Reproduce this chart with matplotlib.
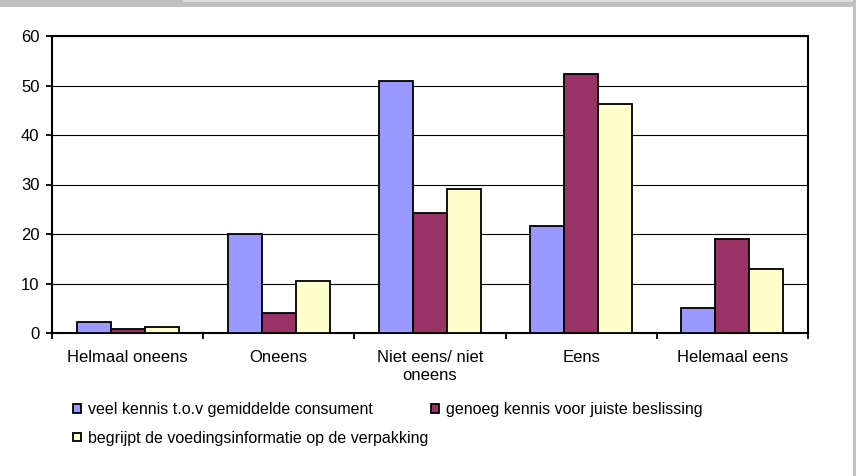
import matplotlib
matplotlib.use("Agg")
import matplotlib.pyplot as plt
from matplotlib.patches import Rectangle
import numpy as np

plt.rcParams['font.family'] = ['Liberation Sans', 'DejaVu Sans']

categories = ["Helmaal oneens", "Oneens", "Niet eens/ niet\noneens", "Eens", "Helemaal eens"]
series_names = [
    "veel kennis t.o.v gemiddelde consument",
    "genoeg kennis voor juiste beslissing",
    "begrijpt de voedingsinformatie op de verpakking",
]
veel_kennis = [2.2, 20.1, 51.0, 21.7, 5.0]
genoeg_kennis = [0.9, 4.1, 24.2, 52.3, 18.9]
begrijpt = [1.2, 10.6, 29.1, 46.2, 13.0]
colors = ["#9999FF", "#993366", "#FFFFCC"]
yticks = [0, 10, 20, 30, 40, 50, 60]

W, H = 856, 476
fig = plt.figure(figsize=(W / 100, H / 100), dpi=100)
fig.patch.set_facecolor("white")

# window-frame strips along the top and right edge
fig.patches.append(Rectangle((0, 1 - 7 / H), 1, 7 / H, transform=fig.transFigure,
                             facecolor="#c0c0c0", edgecolor="none", zorder=0))
fig.patches.append(Rectangle((183 / W, 1 - 2.3 / H), 1, 2.3 / H, transform=fig.transFigure,
                             facecolor="#dedede", edgecolor="none", zorder=0))
fig.patches.append(Rectangle((853 / W, 0), 3 / W, 1, transform=fig.transFigure,
                             facecolor="#c0c0c0", edgecolor="none", zorder=0))

ax = fig.add_axes([52 / W, 1 - 333 / H, (808 - 52) / W, (333 - 36) / H])

x = np.arange(len(categories))
bw = 0.225
bars = []
for i, (vals, name) in enumerate(zip([veel_kennis, genoeg_kennis, begrijpt], series_names)):
    b = ax.bar(x + (i - 1) * bw, vals, width=bw, color=colors[i], edgecolor="black",
               linewidth=1.3, label=name, zorder=3)
    bars.append(b)

ax.set_xlim(-0.5, len(categories) - 0.5)
ax.set_ylim(0, 60)
ax.set_yticks(yticks)
ax.set_yticklabels([str(v) for v in yticks], fontsize=12)
ax.yaxis.grid(True, color="black", linewidth=0.8, zorder=1)
ax.set_axisbelow(True)

ax.set_xticks(x)
ax.set_xticklabels(categories, fontsize=12, linespacing=1.3)
ax.set_xticks(np.arange(len(categories) + 1) - 0.5, minor=True)
ax.tick_params(axis="x", which="major", length=0, pad=12)
ax.tick_params(axis="x", which="minor", length=4, width=1.3, direction="out")
ax.tick_params(axis="y", length=4, width=1.3, direction="out", pad=5)

for s in ax.spines.values():
    s.set_linewidth(1.5)
    s.set_color("black")

handles = [bars[0], bars[2], bars[1]]
labels = [series_names[0], series_names[2], series_names[1]]
fig.legend(handles, labels, loc="upper left", bbox_to_anchor=(72.7 / W, 1 - 402 / H),
           ncol=2, frameon=False, fontsize=11.5, handlelength=0.5, handleheight=0.45,
           handletextpad=0.45, columnspacing=0.15, labelspacing=0.85,
           borderpad=0, borderaxespad=0)

fig.savefig("out.png", dpi=100)
